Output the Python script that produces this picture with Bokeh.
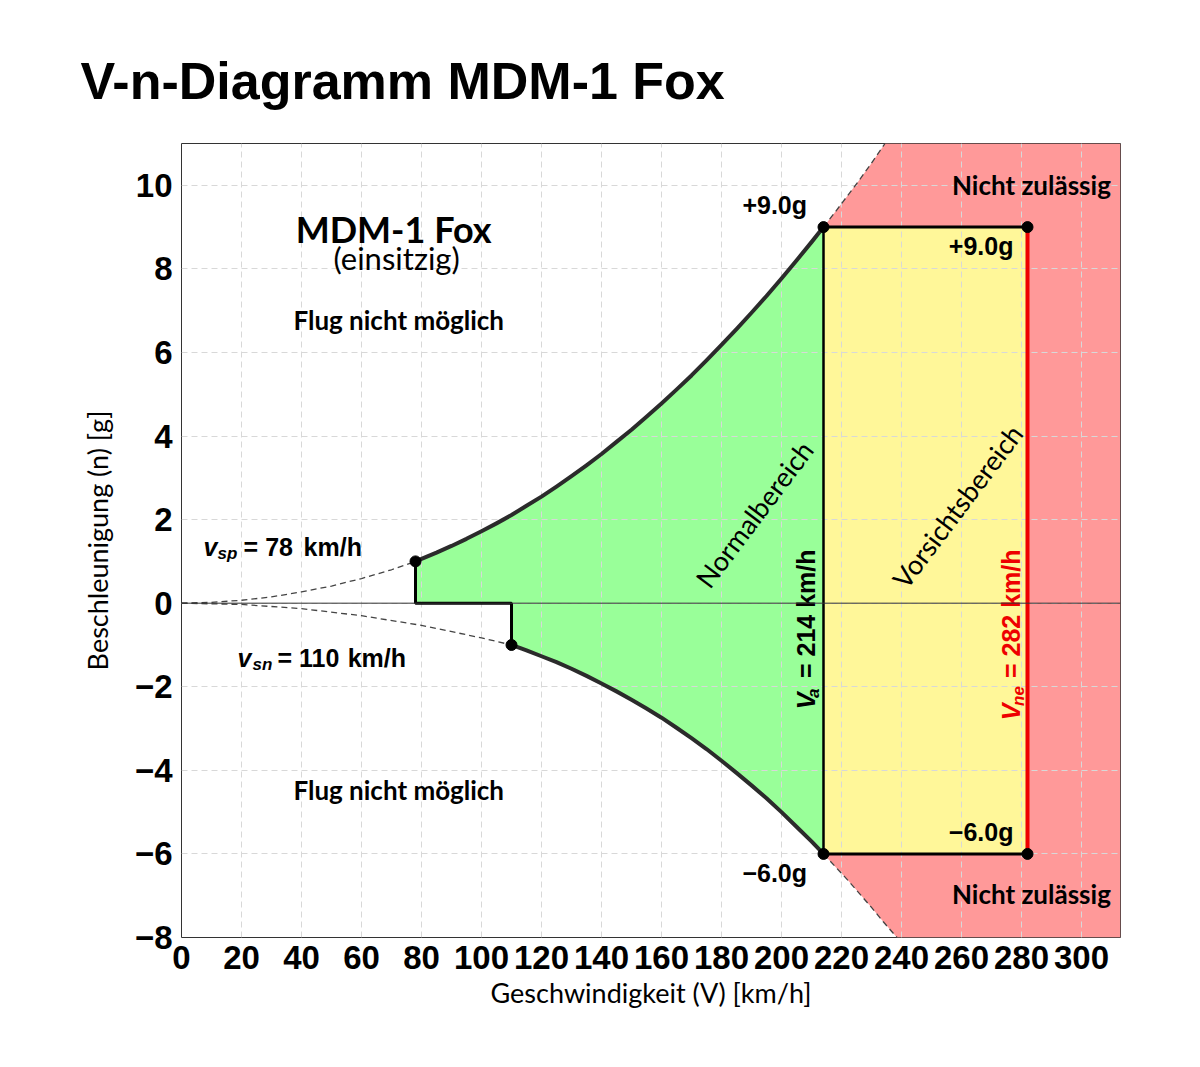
import math
from bokeh.plotting import figure
from bokeh.models import FixedTicker, Span, Title
from bokeh.core.properties import value
from bokeh.embed import file_html
from bokeh.resources import INLINE

# key speeds [km/h] and load factors [g]
v_sp, n_sp = 78, 1.0
v_sn, n_sn = 110, -1.0
v_a = 214
v_ne = 282
n_max, n_min = 9.0, -6.0

# stall curves below v_sp / v_sn (dashed)
v_stall_pos = [0, 10, 20, 30, 40, 50, 60, 70, 78]
n_stall_pos = [0, 0.02, 0.07, 0.15, 0.27, 0.41, 0.59, 0.80, 1.0]
v_stall_neg = [0, 20, 40, 60, 80, 100, 110]
n_stall_neg = [0, -0.03, -0.13, -0.30, -0.53, -0.83, -1.0]

# envelope boundaries (solid)
v_upper = [78, 80, 85, 90, 95, 100, 105, 110, 115, 120, 125, 130, 135, 140, 145, 150,
           155, 160, 165, 170, 175, 180, 185, 190, 195, 200, 205, 210, 214]
n_upper = [1.00, 1.06, 1.21, 1.37, 1.54, 1.72, 1.91, 2.11, 2.33, 2.55, 2.79, 3.04, 3.30,
           3.57, 3.86, 4.15, 4.46, 4.78, 5.11, 5.45, 5.81, 6.18, 6.56, 6.95, 7.35, 7.77,
           8.20, 8.64, 9.00]
v_lower = [110, 115, 120, 125, 130, 135, 140, 145, 150, 155, 160, 165, 170, 175, 180,
           185, 190, 195, 200, 205, 210, 214]
n_lower = [-1.00, -1.13, -1.27, -1.41, -1.57, -1.74, -1.92, -2.11, -2.31, -2.52, -2.74,
           -2.98, -3.23, -3.49, -3.77, -4.06, -4.36, -4.67, -5.00, -5.35, -5.70, -6.00]

# dashed continuation beyond V_a
v_upper_ext = [214, 218, 222, 226, 230, 234.5]
n_upper_ext = [9.0, 9.37, 9.75, 10.13, 10.53, 11.0]
v_lower_ext = [214, 218, 222, 226, 230, 234, 238.5]
n_lower_ext = [-6.0, -6.31, -6.62, -6.95, -7.28, -7.63, -8.0]

x_ticks = list(range(0, 301, 20))
y_ticks = list(range(-8, 11, 2))
x_max, y_min, y_max = 313, -8, 11

SANS = value("Lato")
ARIAL = value("Liberation Sans")

p = figure(width=1184, height=1051, x_range=(0, x_max), y_range=(y_min, y_max),
           output_backend="svg", toolbar_location=None,
           min_border_left=181, min_border_right=64, min_border_top=143, min_border_bottom=114)
p.title = Title(text="V-n-Diagramm MDM-1 Fox", align="left", offset=-101, standoff=68,
                text_font="Liberation Sans", text_font_style="bold", text_font_size="52px",
                text_color="black")
p.background_fill_color = "white"
p.outline_line_color = "#333333"
p.outline_line_width = 1

for ax in (p.xaxis, p.yaxis):
    ax.axis_line_color = None
    ax.major_tick_line_color = None
    ax.minor_tick_line_color = None
    ax.major_label_text_font = "Liberation Sans"
    ax.major_label_text_font_style = "bold"
    ax.major_label_text_font_size = "33px"
    ax.major_label_text_color = "black"
    ax.axis_label_text_font = "Lato"
    ax.axis_label_text_font_style = "normal"
    ax.axis_label_text_font_size = "27px"
    ax.axis_label_text_color = "black"

p.xaxis.ticker = FixedTicker(ticks=x_ticks)
p.yaxis.ticker = FixedTicker(ticks=y_ticks)
p.yaxis.major_label_overrides = {t: ("\u2212" + str(-t) if t < 0 else str(t)) for t in y_ticks}
p.xaxis.axis_label = "Geschwindigkeit (V) [km/h]"
p.yaxis.axis_label = "Beschleunigung (n) [g]"
p.xaxis.major_label_standoff = 2
p.yaxis.major_label_standoff = 3
p.xaxis.axis_label_standoff = 4
p.yaxis.axis_label_standoff = 18

for g in (p.xgrid, p.ygrid):
    g.grid_line_color = "#d8d8d8"
    g.grid_line_dash = "6 4"
    g.grid_line_width = 1
p.xgrid.ticker = FixedTicker(ticks=x_ticks)
p.ygrid.ticker = FixedTicker(ticks=y_ticks)

# areas
red_x = v_upper_ext + [x_max, x_max] + v_lower_ext[::-1]
red_y = n_upper_ext + [y_max, y_min] + n_lower_ext[::-1]
p.patch(red_x, red_y, fill_color="#ff9999", line_color=None, level="image")
p.quad(left=[v_a], right=[v_ne], bottom=[n_min], top=[n_max],
       fill_color="#fff799", line_color=None, level="image")
green_x = [v_sp] + v_upper + v_lower[::-1] + [v_sn]
green_y = [0] + n_upper + n_lower[::-1] + [0]
p.patch(green_x, green_y, fill_color="#99ff99", line_color=None, level="image")

p.add_layout(Span(location=0, dimension="width", line_color="#333333", line_width=1))

# dashed stall lines
dash = dict(line_color="#444444", line_width=1.3, line_dash="6 4")
p.line(v_stall_pos, n_stall_pos, **dash)
p.line(v_stall_neg, n_stall_neg, **dash)
p.line(v_upper_ext, n_upper_ext, **dash)
p.line(v_lower_ext, n_lower_ext, **dash)

# envelope
p.line(v_upper, n_upper, line_color="#2b2b2b", line_width=4, line_join="round")
p.line(v_lower, n_lower, line_color="#2b2b2b", line_width=4, line_join="round")
p.line([v_sp, v_sp, v_sn, v_sn], [n_sp, 0, 0, n_sn], line_color="black", line_width=3)
p.line([v_a, v_a], [n_min, n_max], line_color="black", line_width=2.5)
p.line([v_a, v_ne], [n_max, n_max], line_color="black", line_width=3)
p.line([v_a, v_ne], [n_min, n_min], line_color="black", line_width=3)
p.line([v_ne, v_ne], [n_min, n_max], line_color="#ee0000", line_width=4)
p.scatter([v_sp, v_sn, v_a, v_a, v_ne, v_ne], [n_sp, n_sn, n_max, n_min, n_max, n_min],
          size=11, color="black")


def txt(x, y, s, size, font=SANS, style="bold", align="center", baseline="middle",
        angle=0, color="black", y_off=0):
    p.text(x=[x], y=[y], text=[s], text_font=font, text_font_style=style,
           text_font_size=size, text_align=align, text_baseline=baseline,
           angle=angle, text_color=color, y_offset=y_off)


txt(70.7, 8.95, "MDM-1 Fox", "36px")
txt(71.7, 8.25, "(einsitzig)", "31px", style="normal")
txt(72.4, 6.77, "Flug nicht möglich", "26px")
txt(72.4, -4.47, "Flug nicht möglich", "26px")
txt(283.3, 10.0, "Nicht zulässig", "26px")
txt(283.3, -6.96, "Nicht zulässig", "26px")
txt(190.9, 2.13, "Normalbereich", "27px", style="normal", angle=math.radians(53))
txt(258.6, 2.32, "Vorsichtsbereich", "27px", style="normal", angle=math.radians(53))

txt(208.5, 9.52, "+9.0g", "25px", font=ARIAL, align="right")
txt(277.3, 8.54, "+9.0g", "25px", font=ARIAL, align="right")
txt(277.3, -5.48, "\u22126.0g", "25px", font=ARIAL, align="right")
txt(208.5, -6.46, "\u22126.0g", "25px", font=ARIAL, align="right")

# stall speeds
txt(7.3, 1.34, "v", "25px", font=ARIAL, style="bold italic", align="left")
txt(12.0, 1.34, "sp", "17px", font=ARIAL, style="bold italic", align="left", y_off=6)
txt(20.7, 1.34, "= 78", "25px", font=ARIAL, align="left")
txt(40.7, 1.34, "km/h", "25px", font=ARIAL, align="left")
txt(18.7, -1.32, "v", "25px", font=ARIAL, style="bold italic", align="left")
txt(23.7, -1.32, "sn", "17px", font=ARIAL, style="bold italic", align="left", y_off=6)
txt(32.0, -1.32, "= 110", "25px", font=ARIAL, align="left")
txt(55.4, -1.32, "km/h", "25px", font=ARIAL, align="left")

# V_a and V_ne
up = math.pi / 2
txt(208.2, -2.54, "V", "25px", font=ARIAL, style="bold italic", align="left", angle=up)
txt(210.8, -2.27, "a", "17px", font=ARIAL, style="bold italic", align="left", angle=up)
txt(208.2, -1.79, "= 214  km/h", "25px", font=ARIAL, align="left", angle=up)
txt(276.6, -2.80, "V", "25px", font=ARIAL, style="bold italic", align="left", angle=up, color="#ee0000")
txt(279.0, -2.46, "ne", "17px", font=ARIAL, style="bold italic", align="left", angle=up, color="#ee0000")
txt(276.6, -1.79, "= 282  km/h", "25px", font=ARIAL, align="left", angle=up, color="#ee0000")

open("out.html", "w").write(file_html(p, INLINE))
